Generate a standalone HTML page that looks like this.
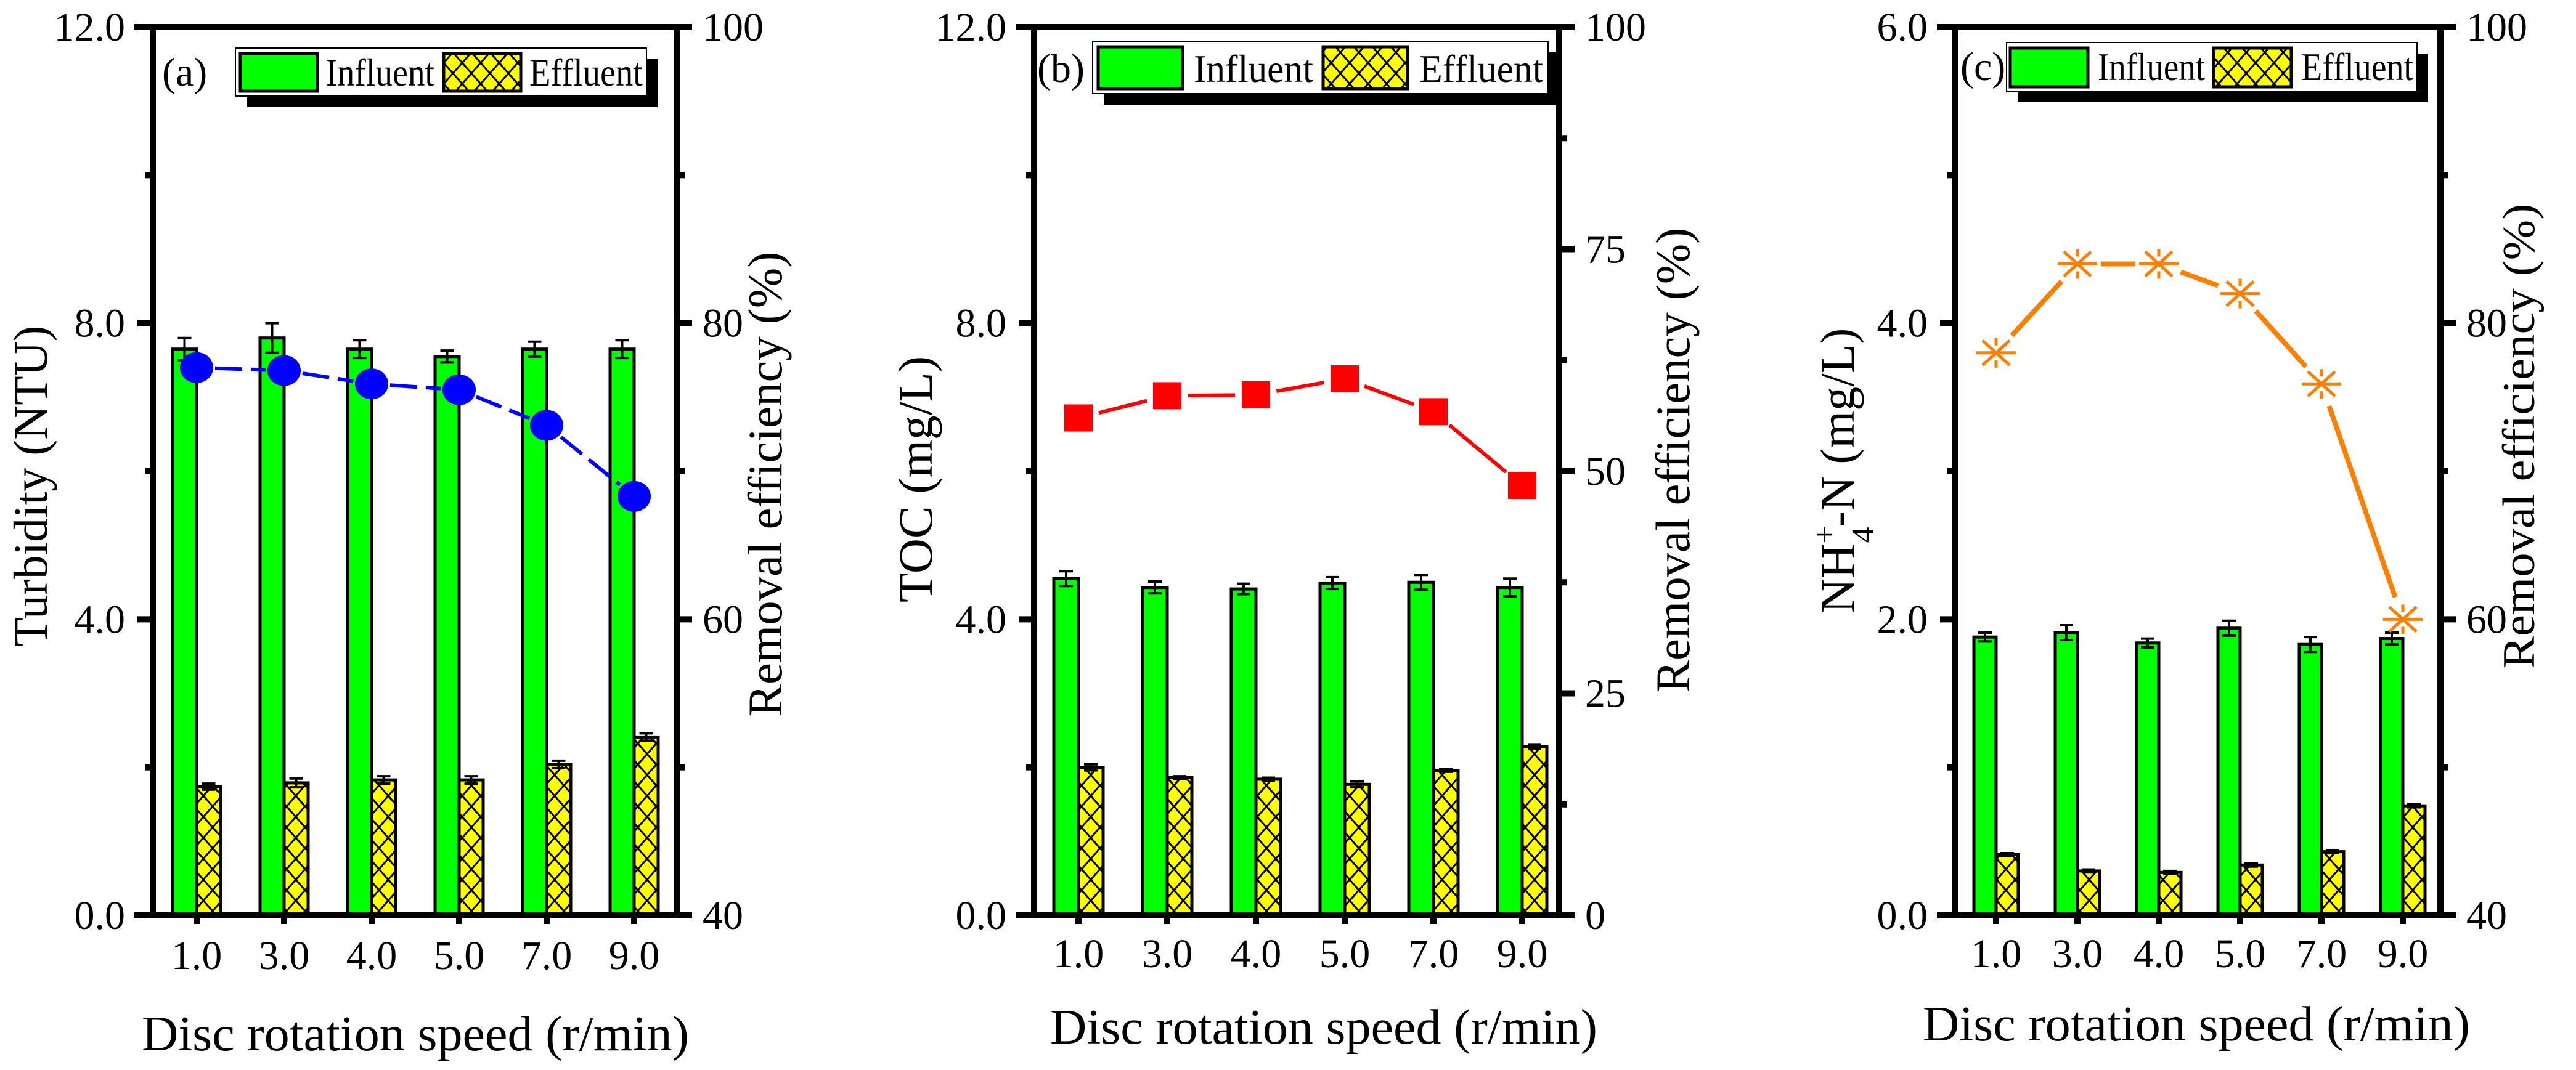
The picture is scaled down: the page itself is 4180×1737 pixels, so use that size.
<!DOCTYPE html>
<html><head><meta charset="utf-8">
<style>
html,body{margin:0;padding:0;background:#fff;}
svg{display:block;font-family:"Liberation Serif","DejaVu Serif",serif;}
text{font-family:"Liberation Serif","DejaVu Serif",serif;}
</style></head>
<body>
<svg id="chart" width="4180" height="1737" viewBox="0 0 4180 1737" xmlns="http://www.w3.org/2000/svg">
<defs>
<pattern id="hatch" patternUnits="userSpaceOnUse" width="30" height="34">
<rect width="30" height="34" fill="#ffff00"/>
<path d="M0,0 L30,34 M30,0 L0,34 M-15,17 L0,34 M15,-17 L30,0" stroke="#000" stroke-width="3" fill="none"/>
</pattern>
</defs>
</svg>
<script>
// ---- data ----
const categories = ["1.0","3.0","4.0","5.0","7.0","9.0"];
const turbInfluent = [7.65,7.8,7.65,7.55,7.65,7.65];
const turbInfluentErr = [0.15,0.2,0.12,0.08,0.1,0.12];
const turbEffluent = [1.74,1.79,1.83,1.83,2.04,2.41];
const turbEffluentErr = [0.04,0.06,0.05,0.05,0.05,0.05];
const turbRemoval = [77.0,76.8,75.9,75.5,73.1,68.3];
const tocInfluent = [4.55,4.43,4.41,4.49,4.5,4.43];
const tocInfluentErr = [0.1,0.08,0.07,0.08,0.1,0.12];
const tocEffluent = [2.0,1.86,1.84,1.77,1.96,2.28];
const tocEffluentErr = [0.04,0.02,0.02,0.04,0.02,0.03];
const tocRemoval = [56.0,58.5,58.6,60.4,56.7,48.4];
const nhInfluent = [1.88,1.91,1.84,1.94,1.83,1.87];
const nhInfluentErr = [0.03,0.05,0.03,0.05,0.05,0.04];
const nhEffluent = [0.41,0.30,0.29,0.34,0.43,0.74];
const nhEffluentErr = [0.01,0.01,0.01,0.01,0.01,0.01];
const nhRemoval = [78.0,84.0,84.0,82.0,75.9,60.0];
const leftTicksA = ["0.0","4.0","8.0","12.0"];
const rightTicksA = ["40","60","80","100"];
const leftTicksB = ["0.0","4.0","8.0","12.0"];
const rightTicksB = ["0","25","50","75","100"];
const leftTicksC = ["0.0","2.0","4.0","6.0"];
const rightTicksC = ["40","60","80","100"];

const NS="http://www.w3.org/2000/svg";
const svg=document.getElementById('chart');
const FF='"Liberation Serif","DejaVu Serif",serif';
function mk(tag,attrs,parent){const e=document.createElementNS(NS,tag);for(const k in attrs)e.setAttribute(k,attrs[k]);if(tag==='text')e.setAttribute('font-family',FF);(parent||svg).appendChild(e);return e;}

const Y0=1486, Y1=44;

function panel(p){
  const g=mk('g',{});
  
  
  const n=categories.length, sp=p.sp;
  const xc=i=>p.firstX+i*sp;
  const yL=v=>Y0-(v-p.lmin)/(p.lmax-p.lmin)*(Y0-Y1);
  const yR=v=>Y0-(v-p.rmin)/(p.rmax-p.rmin)*(Y0-Y1);
  const bw=p.bw;
  for(let i=0;i<n;i++){
    const x=xc(i);
    const yi=yL(p.inf[i]);
    const r1=mk('rect',{x:x-bw,y:yi,width:bw,height:Y0-yi,fill:'#00ff00',stroke:'#000','stroke-width':5},g);
    
    
    const ye=yL(p.eff[i]);
    const r2=mk('rect',{x:x,y:ye,width:bw,height:Y0-ye,fill:'url(#hatch)',stroke:'#000','stroke-width':5},g);
    
    
    [[x-bw/2,p.inf[i],p.infE[i]],[x+bw/2,p.eff[i],p.effE[i]]].forEach(([ex,v,e])=>{
      const eb=mk('path',{d:`M${ex},${yL(v+e)} V${yL(v-e)} M${ex-11},${yL(v+e)} H${ex+11} M${ex-11},${yL(v-e)} H${ex+11}`,stroke:'#000','stroke-width':4,fill:'none'},g);
      
      
    });
  }
  const pts=p.rem.map((v,i)=>[xc(i),yR(v)]);
  for(let i=0;i<n-1;i++){
    const [x1,y1]=pts[i],[x2,y2]=pts[i+1];
    const dx=x2-x1,dy=y2-y1,L=Math.hypot(dx,dy),gp=p.gap;
    const seg=mk('line',{x1:x1+dx/L*gp,y1:y1+dy/L*gp,x2:x2-dx/L*gp,y2:y2-dy/L*gp,stroke:p.color,'stroke-width':p.lw},g);
    if(p.dash)seg.setAttribute('stroke-dasharray',p.dash);
    
    
  }
  pts.forEach(([x,y],i)=>{
    let m;
    if(p.marker==='circle') m=mk('ellipse',{cx:x,cy:y,rx:27,ry:25,fill:p.color},g);
    else if(p.marker==='square') m=mk('rect',{x:x-23,y:y-22,width:46,height:44,fill:p.color},g);
    else m=mk('path',{d:`M${x-32},${y} H${x+32} M${x-22},${y-20} L${x+22},${y+20} M${x-22},${y+20} L${x+22},${y-20} M${x},${y-24} V${y-12} M${x},${y+12} V${y+24}`,stroke:p.color,'stroke-width':5,fill:'none'},g);
    
    
  });
  const L=p.left,R=p.right;
  const fr=mk('path',{d:`M${L},${Y1} V${Y0} M${R},${Y1} V${Y0} M${L-25},${Y0} H${R} M${L-25},${Y1} H${R+5}`,stroke:'#000','stroke-width':10,fill:'none','stroke-linecap':'square'},g);
  
  
  const lStep=(p.lmax-p.lmin)/(p.leftLabels.length-1);
  for(let k=0;k<=2*(p.leftLabels.length-1);k++){
    const v=p.lmin+k*lStep/2, y=yL(v), major=k%2===0;
    mk('line',{x1:L-(major?25:13),y1:y,x2:L,y2:y,stroke:'#000','stroke-width':10},g);
  }
  p.leftLabels.forEach((t,k)=>{
    const tx=mk('text',{x:L-45,y:yL(p.lmin+k*lStep)+22,'font-size':66,'text-anchor':'end'},g);
    tx.textContent=t;
    
    
  });
  const rStep=(p.rmax-p.rmin)/(p.rightLabels.length-1);
  for(let k=0;k<=2*(p.rightLabels.length-1);k++){
    const v=p.rmin+k*rStep/2, y=yR(v), major=k%2===0;
    mk('line',{x1:R,y1:y,x2:R+(major?25:13),y2:y,stroke:'#000','stroke-width':10},g);
  }
  p.rightLabels.forEach((t,k)=>{
    const tx=mk('text',{x:R+42,y:yR(p.rmin+k*rStep)+22,'font-size':66},g);
    tx.textContent=t;
    
    
  });
  categories.forEach((c,i)=>{
    mk('line',{x1:xc(i),y1:Y0,x2:xc(i),y2:Y0+14,stroke:'#000','stroke-width':10},g);
    const tx=mk('text',{x:xc(i),y:p.xlabY,'font-size':66,'text-anchor':'middle'},g);
    tx.textContent=c;
    
    
  });
  const xt=mk('text',{x:p.xtX,y:p.xtY,'font-size':80,'text-anchor':'middle',textLength:888,lengthAdjust:'spacingAndGlyphs'},g);
  xt.textContent='Disc rotation speed (r/min)';
  
  
  const yt=mk('text',{transform:`translate(${p.ytX},${p.ytY}) rotate(-90)`,'font-size':78,'text-anchor':'middle',textLength:p.ytLen,lengthAdjust:'spacingAndGlyphs'},g);
  if(p.nh){
    yt.innerHTML='NH<tspan dy="-30" font-size="52">+</tspan><tspan dy="62" dx="-28" font-size="52">4</tspan><tspan dy="-32">-N (mg/L)</tspan>';
    yt.removeAttribute('textLength');
  } else yt.textContent=p.ytitle;
  
  
  const rt=mk('text',{transform:`translate(${p.rtX},${p.rtY}) rotate(-90)`,'font-size':p.rtFs||78,'text-anchor':'middle',textLength:755,lengthAdjust:'spacingAndGlyphs'},g);
  rt.textContent='Removal efficiency (%)';
  
  
  const pl=mk('text',{x:p.plX,y:p.lgTxtY,'font-size':66},g);
  pl.textContent='('+p.id+')';
  
  
  const lg=p.lg;
  const leg=mk('g',{},g);
  
  
  mk('rect',{x:lg.x+18,y:lg.y+18,width:lg.w,height:lg.h,fill:'#000'},leg);
  mk('rect',{x:lg.x,y:lg.y,width:lg.w,height:lg.h,fill:'#fff',stroke:'#000','stroke-width':2},leg);
  const s1=mk('rect',{x:lg.g1,y:lg.sy,width:lg.sw,height:lg.sh,fill:'#00ff00',stroke:'#000','stroke-width':5},leg);
  
  
  const t1=mk('text',{x:lg.t1,y:p.lgTxtY,'font-size':64,textLength:lg.t1w,lengthAdjust:'spacingAndGlyphs'},leg);
  t1.textContent='Influent';
  const s2=mk('rect',{x:lg.g2,y:lg.sy,width:lg.sw,height:lg.sh,fill:'url(#hatch)',stroke:'#000','stroke-width':5},leg);
  
  
  const t2=mk('text',{x:lg.t2,y:p.lgTxtY,'font-size':64,textLength:lg.t2w,lengthAdjust:'spacingAndGlyphs'},leg);
  t2.textContent='Effluent';
}

panel({id:'a',left:248,right:1098,firstX:319,sp:142,bw:39,lmin:0,lmax:12,rmin:40,rmax:100,
  inf:turbInfluent,infE:turbInfluentErr,eff:turbEffluent,effE:turbEffluentErr,rem:turbRemoval,
  color:'#0000ff',marker:'circle',lw:6,dash:'44 14',gap:30,
  leftLabels:leftTicksA,rightLabels:rightTicksA,xlabY:1573,xtX:674,xtY:1705,
  ytitle:'Turbidity (NTU)',ytX:76,ytY:789,ytLen:521,rtX:1268,rtY:786,plX:263,lgTxtY:139,
  lg:{x:382,y:78,w:667,h:78,g1:390,sy:87,sw:125,sh:61,t1:529,t1w:176,g2:720,t2:859,t2w:184}});
panel({id:'b',left:1678,right:2530,firstX:1750,sp:144,bw:40,lmin:0,lmax:12,rmin:0,rmax:100,
  inf:tocInfluent,infE:tocInfluentErr,eff:tocEffluent,effE:tocEffluentErr,rem:tocRemoval,
  color:'#ff0000',marker:'square',lw:6,dash:null,gap:34,
  leftLabels:leftTicksB,rightLabels:rightTicksB,xlabY:1570,xtX:2148,xtY:1694,
  ytitle:'TOC (mg/L)',ytX:1512,ytY:778,ytLen:400,rtX:2741,rtY:747,plX:1683,lgTxtY:133,
  lg:{x:1773,y:67,w:739,h:85,g1:1782,sy:76,sw:137,sh:68,t1:1937,t1w:194,g2:2147,t2:2303,t2w:201}});
panel({id:'c',left:3173,right:3960,firstX:3239,sp:132,bw:36,lmin:0,lmax:6,rmin:40,rmax:100,
  inf:nhInfluent,infE:nhInfluentErr,eff:nhEffluent,effE:nhEffluentErr,rem:nhRemoval,
  color:'#ff8000',marker:'star',lw:8,dash:null,gap:38,nh:true,
  leftLabels:leftTicksC,rightLabels:rightTicksC,xlabY:1570,xtX:3564,xtY:1689,
  ytitle:'',ytX:3008,ytY:764,ytLen:461,rtX:4112,rtY:708,rtFs:74,plX:3181,lgTxtY:130,
  lg:{x:3256,y:69,w:666,h:79,g1:3262,sy:78,sw:126,sh:63,t1:3404,t1w:174,g2:3592,t2:3734,t2w:182}});
</script>
</body></html>
